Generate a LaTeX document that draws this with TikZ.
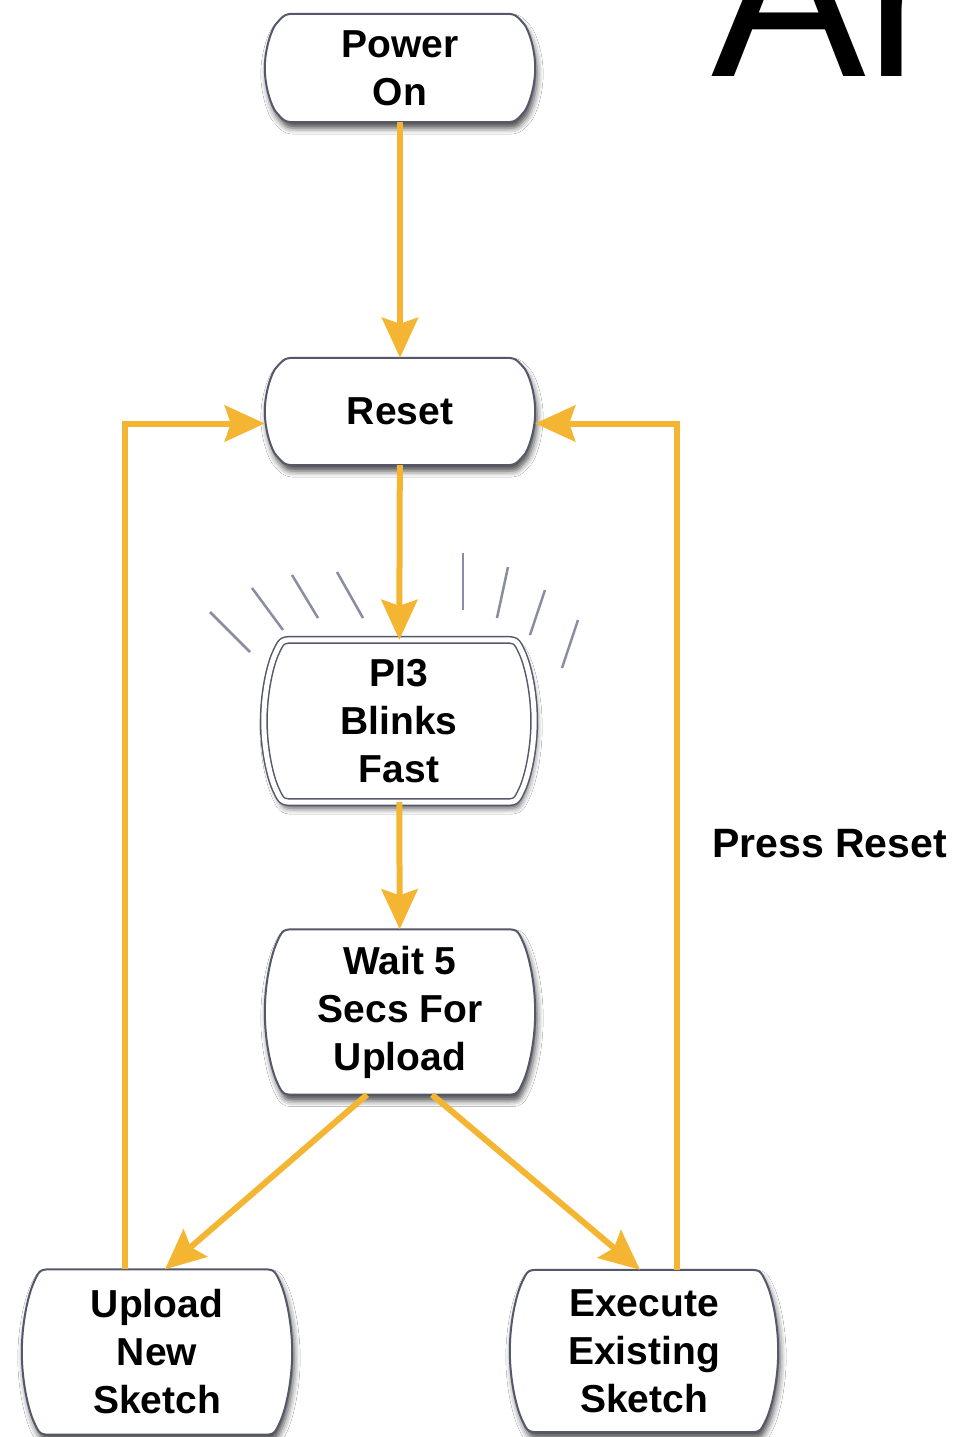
\documentclass[tikz,border=0pt]{standalone}
\usepackage{fontspec}
\setmainfont{Liberation Sans}
\usetikzlibrary{arrows.meta,shadows.blur}
\definecolor{arrowc}{HTML}{F4B632}
\definecolor{edgec}{HTML}{55576B}
\definecolor{rayc}{HTML}{8A8DA2}
\pgfdeclarelayer{bg}
\pgfsetlayers{bg,main}
% #1 extra style, #2 node name, #3 side bulge (px), #4 half height (px), #5 corner rounding (px)
\newcommand\drawbarrel[5][]{%
  \pgfmathsetmacro\bR{(#4*#4+#3*#3)/(2*#3)}%
  \pgfmathsetmacro\bth{asin(#4/\bR)}%
  \pgfmathsetmacro\bk{4/3*tan(\bth/4)*\bR}%
  \pgfmathsetmacro\bcx{\bk*sin(\bth)}%
  \pgfmathsetmacro\bcy{\bk*cos(\bth)}%
  \pgfmathsetmacro\bdx{\bcx-#3}%
  \pgfmathsetmacro\bqx{#5*sin(\bth)-#3}%
  \pgfmathsetmacro\bqy{#5*cos(\bth)}%
  \pgfmathsetmacro\bdr{#3+#5}%
  \path[shapest,#1] ([xshift=\bdr pt]#2.north west) -- ([xshift=-\bdr pt]#2.north east)
    .. controls ([xshift=-#3pt]#2.north east) .. ([xshift=\bqx pt, yshift=-\bqy pt]#2.north east)
    .. controls ([xshift=\bdx pt, yshift=-\bcy pt]#2.north east) and ([yshift=\bk pt]#2.east) .. (#2.east)
    .. controls ([yshift=-\bk pt]#2.east) and ([xshift=\bdx pt, yshift=\bcy pt]#2.south east) .. ([xshift=\bqx pt, yshift=\bqy pt]#2.south east)
    .. controls ([xshift=-#3pt]#2.south east) .. ([xshift=-\bdr pt]#2.south east)
    -- ([xshift=\bdr pt]#2.south west)
    .. controls ([xshift=#3pt]#2.south west) .. ([xshift=-\bqx pt, yshift=\bqy pt]#2.south west)
    .. controls ([xshift=-\bdx pt, yshift=\bcy pt]#2.south west) and ([yshift=-\bk pt]#2.west) .. (#2.west)
    .. controls ([yshift=\bk pt]#2.west) and ([xshift=-\bdx pt, yshift=-\bcy pt]#2.north west) .. ([xshift=-\bqx pt, yshift=-\bqy pt]#2.north west)
    .. controls ([xshift=#3pt]#2.north west) .. ([xshift=\bdr pt]#2.north west) -- cycle;}
\begin{document}
\begin{tikzpicture}[x=1pt,y=-1pt,
  state/.style={minimum width=270pt, align=center, inner sep=0pt,
    font=\bfseries\fontsize{39}{48}\selectfont},
  shapest/.style={draw=edgec, line width=2pt, fill=white, line join=round,
    blur shadow={shadow xshift=2pt,shadow yshift=-6pt,shadow blur radius=6pt,shadow opacity=70}},
  dbl/.style={line width=1.5pt, double=white, double distance=5pt},
  arr/.style={draw=arrowc, line width=6pt, -{Stealth[length=40pt,width=36pt,inset=6pt]}},
  ray/.style={draw=rayc, line width=2.5pt}]
\useasboundingbox (0,0) rectangle (958,1437);

% title fragment
\node[anchor=base west, inner sep=0pt, font=\fontsize{232}{232}\selectfont] (title) at (711,76) {Ar};

% nodes
\node[state, minimum height=108pt] (power) at (400,68) {Power\\On};
\node[state, minimum height=107pt] (reset) at (400,411.5) {Reset};
\node[state, minimum height=162pt] (blink) at (399,721) {PI3\\Blinks\\Fast};
\node[state, minimum height=165pt] (wait) at (400,1012) {Wait 5\\Secs For\\Upload};
\node[state, minimum height=165pt] (upload) at (157,1352) {Upload\\New\\Sketch};
\node[state, minimum width=268pt, minimum height=162pt] (exec) at (644,1351) {Execute\\Existing\\Sketch};

\begin{pgfonlayer}{bg}
\fill[white] (0,0) rectangle (958,1437);
\drawbarrel{power}{20}{54}{14}
\drawbarrel{reset}{20}{53.5}{14}
\drawbarrel[dbl]{blink}{18}{81}{14}
\drawbarrel{wait}{18}{82.5}{14}
\drawbarrel{upload}{18}{82.5}{14}
\drawbarrel{exec}{18}{81}{14}
\end{pgfonlayer}

% rays
\draw[ray] (210,612) -- (250,652);
\draw[ray] (252,588) -- (283,630);
\draw[ray] (292,575) -- (318,618);
\draw[ray] (337,572) -- (363,618);
\draw[ray] (463,553) -- (463,610);
\draw[ray] (508,567) -- (497,618);
\draw[ray] (545,590) -- (530,635);
\draw[ray] (578,620) -- (562,668);

% connectors
\draw[arr] (power) -- (reset);
\draw[arr] (reset) -- (blink);
\draw[arr] (blink) -- (wait);
\draw[arr] ([xshift=-33pt]wait.south) -- ([xshift=8pt]upload.north);
\draw[arr] ([xshift=32pt]wait.south) -- ([xshift=-4pt]exec.north);
\draw[arr] ([xshift=-32pt]upload.north) |- ([yshift=-12pt]reset.west);
\draw[arr] ([xshift=33pt]exec.north) |- ([yshift=-12pt]reset.east);

\node[anchor=base west, inner sep=0pt, font=\bfseries\fontsize{41}{48}\selectfont] (press) at (712,857) {Press Reset};
\end{tikzpicture}
\end{document}
